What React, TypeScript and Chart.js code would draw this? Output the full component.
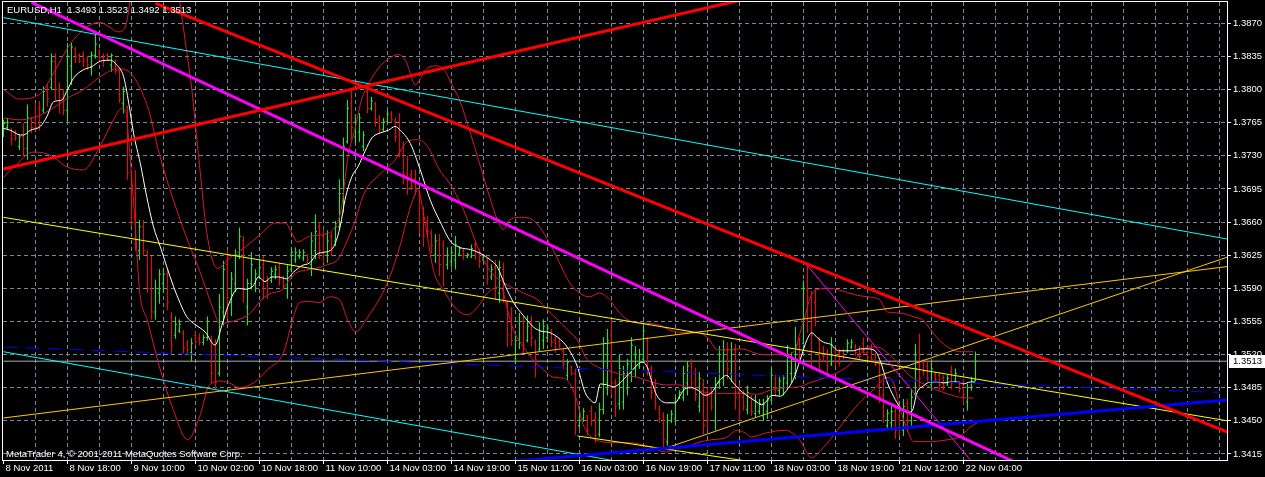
import React, { useEffect, useRef } from "react";
import { Chart, registerables } from "chart.js";
Chart.register(...registerables);

// ---------- data ----------
const symbol = "EURUSD,H1";
const copyright = "MetaTrader 4, \u00a9 2001-2011 MetaQuotes Software Corp.";
const timeLabels = [
  "8 Nov 2011", "8 Nov 18:00", "9 Nov 10:00", "10 Nov 02:00", "10 Nov 18:00", "11 Nov 10:00",
  "14 Nov 03:00", "14 Nov 19:00", "15 Nov 11:00", "16 Nov 03:00", "16 Nov 19:00", "17 Nov 11:00",
  "18 Nov 03:00", "18 Nov 19:00", "21 Nov 12:00", "22 Nov 04:00",
];
const priceTicks = [1.3415, 1.345, 1.3485, 1.352, 1.3555, 1.359, 1.3625, 1.366, 1.3695, 1.373, 1.3765, 1.38, 1.3835, 1.387];

const opens = [
  1.3753, 1.3760, 1.3757, 1.3752, 1.3740, 1.3750, 1.3738, 1.3770, 1.3765, 1.3780,
  1.3778, 1.3798, 1.3802, 1.3830, 1.3800, 1.3790, 1.3778, 1.3825, 1.3843, 1.3836,
  1.3836, 1.3832, 1.3824, 1.3836, 1.3840, 1.3834, 1.3836, 1.3826, 1.3830, 1.3820,
  1.3785, 1.3782, 1.3712, 1.3690, 1.3630, 1.3655, 1.3628, 1.3610, 1.3565, 1.3585,
  1.3595, 1.3605, 1.3560, 1.3540, 1.3545, 1.3543, 1.3532, 1.3522, 1.3540, 1.3537,
  1.3533, 1.3538, 1.3535, 1.3520, 1.3500, 1.3565, 1.3615, 1.3575, 1.3595, 1.3625,
  1.3640, 1.3570, 1.3595, 1.3595, 1.3603, 1.3615, 1.3598, 1.3598, 1.3605, 1.3612,
  1.3600, 1.3590, 1.3610, 1.3620, 1.3624, 1.3622, 1.3625, 1.3615, 1.3630, 1.3655,
  1.3645, 1.3625, 1.3645, 1.3640, 1.3655, 1.3690, 1.3745, 1.3785, 1.3750, 1.3755,
  1.3740, 1.3798, 1.3780, 1.3785, 1.3770, 1.3758, 1.3766, 1.3775, 1.3766, 1.3752,
  1.3735, 1.3712, 1.3710, 1.3705, 1.3690, 1.3668, 1.3660, 1.3648, 1.3625, 1.3640,
  1.3635, 1.3615, 1.3618, 1.3620, 1.3626, 1.3630, 1.3623, 1.3624, 1.3636, 1.3628,
  1.3620, 1.3620, 1.3602, 1.3612, 1.3585, 1.3610, 1.3575, 1.3555, 1.3520, 1.3535,
  1.3555, 1.3535, 1.3552, 1.3533, 1.3525, 1.3535, 1.3538, 1.3545, 1.3535, 1.3534,
  1.3524, 1.3498, 1.3507, 1.3500, 1.3445, 1.3452, 1.3455, 1.3460, 1.3452, 1.3436,
  1.3462, 1.3490, 1.3540, 1.3490, 1.3468, 1.3470, 1.3485, 1.3500, 1.3505, 1.3508,
  1.3515, 1.3535, 1.3505, 1.3490, 1.3462, 1.3455, 1.3428, 1.3450, 1.3452, 1.3475,
  1.3475, 1.3490, 1.3510, 1.3500, 1.3465, 1.3488, 1.3478, 1.3480, 1.3450, 1.3490,
  1.3495, 1.3525, 1.3500, 1.3525, 1.3480, 1.3475, 1.3462, 1.3475, 1.3458, 1.3460,
  1.3455, 1.3460, 1.3472, 1.3495, 1.3482, 1.3485, 1.3490, 1.3500, 1.3500, 1.3535,
  1.3532, 1.3590, 1.3580, 1.3575, 1.3535, 1.3525, 1.3522, 1.3510, 1.3524, 1.3522,
  1.3524, 1.3524, 1.3528, 1.3529, 1.3526, 1.3532, 1.3522, 1.3528, 1.3520, 1.3510,
  1.3478, 1.3445, 1.3448, 1.3460, 1.3455, 1.3440, 1.3468, 1.3450, 1.3478, 1.3510,
  1.3512, 1.3508, 1.3488, 1.3499, 1.3498, 1.3495, 1.3489, 1.3502, 1.3492, 1.3490,
  1.3490, 1.3470, 1.3485, 1.3493,
];
const highs = [
  1.3768, 1.3770, 1.3759, 1.3757, 1.3752, 1.3764, 1.3784, 1.3771, 1.3786, 1.3788,
  1.3803, 1.3805, 1.3838, 1.3838, 1.3808, 1.3800, 1.3849, 1.3849, 1.3845, 1.3838,
  1.3840, 1.3835, 1.3840, 1.3859, 1.3843, 1.3838, 1.3838, 1.3838, 1.3831, 1.3822,
  1.3803, 1.3782, 1.3715, 1.3715, 1.3662, 1.3662, 1.3630, 1.3624, 1.3599, 1.3610,
  1.3611, 1.3609, 1.3565, 1.3560, 1.3557, 1.3546, 1.3535, 1.3537, 1.3544, 1.3542,
  1.3541, 1.3560, 1.3540, 1.3536, 1.3584, 1.3619, 1.3630, 1.3607, 1.3631, 1.3654,
  1.3645, 1.3600, 1.3628, 1.3610, 1.3621, 1.3624, 1.3603, 1.3612, 1.3614, 1.3617,
  1.3603, 1.3614, 1.3633, 1.3633, 1.3631, 1.3631, 1.3626, 1.3649, 1.3668, 1.3660,
  1.3652, 1.3651, 1.3649, 1.3661, 1.3705, 1.3749, 1.3789, 1.3799, 1.3771, 1.3775,
  1.3756, 1.3803, 1.3792, 1.3787, 1.3773, 1.3770, 1.3778, 1.3777, 1.3770, 1.3775,
  1.3745, 1.3730, 1.3715, 1.3715, 1.3694, 1.3676, 1.3666, 1.3652, 1.3647, 1.3647,
  1.3641, 1.3633, 1.3634, 1.3645, 1.3634, 1.3631, 1.3627, 1.3636, 1.3640, 1.3631,
  1.3626, 1.3622, 1.3615, 1.3620, 1.3619, 1.3617, 1.3577, 1.3570, 1.3540, 1.3564,
  1.3561, 1.3561, 1.3561, 1.3536, 1.3554, 1.3557, 1.3552, 1.3547, 1.3540, 1.3536,
  1.3526, 1.3515, 1.3508, 1.3505, 1.3465, 1.3463, 1.3456, 1.3466, 1.3459, 1.3469,
  1.3538, 1.3547, 1.3557, 1.3494, 1.3520, 1.3508, 1.3515, 1.3538, 1.3529, 1.3526,
  1.3552, 1.3538, 1.3508, 1.3494, 1.3466, 1.3459, 1.3457, 1.3461, 1.3475, 1.3482,
  1.3508, 1.3513, 1.3515, 1.3506, 1.3501, 1.3494, 1.3485, 1.3485, 1.3496, 1.3529,
  1.3535, 1.3533, 1.3533, 1.3531, 1.3489, 1.3482, 1.3487, 1.3477, 1.3477, 1.3473,
  1.3473, 1.3477, 1.3505, 1.3499, 1.3496, 1.3498, 1.3530, 1.3522, 1.3549, 1.3538,
  1.3598, 1.3615, 1.3587, 1.3589, 1.3538, 1.3529, 1.3526, 1.3538, 1.3526, 1.3526,
  1.3526, 1.3536, 1.3536, 1.3531, 1.3529, 1.3538, 1.3524, 1.3531, 1.3522, 1.3512,
  1.3498, 1.3462, 1.3466, 1.3466, 1.3459, 1.3473, 1.3473, 1.3483, 1.3531, 1.3542,
  1.3515, 1.3512, 1.3512, 1.3501, 1.3501, 1.3498, 1.3498, 1.3508, 1.3505, 1.3492,
  1.3494, 1.3489, 1.3496, 1.3523,
];
const lows = [
  1.3750, 1.3758, 1.3741, 1.3746, 1.3736, 1.3730, 1.3726, 1.3754, 1.3757, 1.3757,
  1.3775, 1.3782, 1.3800, 1.3789, 1.3775, 1.3773, 1.3766, 1.3805, 1.3828, 1.3828,
  1.3824, 1.3821, 1.3815, 1.3833, 1.3829, 1.3824, 1.3830, 1.3819, 1.3817, 1.3786,
  1.3775, 1.3705, 1.3655, 1.3630, 1.3620, 1.3624, 1.3585, 1.3557, 1.3557, 1.3574,
  1.3585, 1.3567, 1.3521, 1.3537, 1.3543, 1.3521, 1.3520, 1.3513, 1.3530, 1.3530,
  1.3530, 1.3535, 1.3490, 1.3484, 1.3497, 1.3551, 1.3558, 1.3561, 1.3586, 1.3621,
  1.3575, 1.3551, 1.3589, 1.3586, 1.3600, 1.3579, 1.3579, 1.3596, 1.3600, 1.3593,
  1.3589, 1.3579, 1.3607, 1.3617, 1.3621, 1.3619, 1.3617, 1.3603, 1.3621, 1.3621,
  1.3617, 1.3617, 1.3624, 1.3635, 1.3652, 1.3670, 1.3743, 1.3747, 1.3743, 1.3745,
  1.3735, 1.3775, 1.3778, 1.3761, 1.3754, 1.3756, 1.3764, 1.3766, 1.3745, 1.3728,
  1.3700, 1.3689, 1.3694, 1.3689, 1.3648, 1.3634, 1.3645, 1.3627, 1.3617, 1.3603,
  1.3592, 1.3610, 1.3612, 1.3610, 1.3624, 1.3620, 1.3622, 1.3622, 1.3620, 1.3612,
  1.3619, 1.3594, 1.3599, 1.3578, 1.3575, 1.3575, 1.3528, 1.3529, 1.3510, 1.3526,
  1.3521, 1.3533, 1.3529, 1.3496, 1.3524, 1.3526, 1.3533, 1.3528, 1.3522, 1.3527,
  1.3505, 1.3493, 1.3498, 1.3435, 1.3442, 1.3449, 1.3435, 1.3445, 1.3427, 1.3433,
  1.3457, 1.3477, 1.3477, 1.3454, 1.3462, 1.3462, 1.3477, 1.3491, 1.3496, 1.3505,
  1.3513, 1.3498, 1.3473, 1.3462, 1.3448, 1.3422, 1.3424, 1.3448, 1.3448, 1.3473,
  1.3471, 1.3477, 1.3485, 1.3471, 1.3459, 1.3436, 1.3440, 1.3461, 1.3440, 1.3484,
  1.3487, 1.3494, 1.3491, 1.3462, 1.3450, 1.3461, 1.3457, 1.3455, 1.3454, 1.3457,
  1.3450, 1.3452, 1.3471, 1.3477, 1.3477, 1.3477, 1.3483, 1.3490, 1.3494, 1.3515,
  1.3531, 1.3543, 1.3505, 1.3550, 1.3505, 1.3512, 1.3501, 1.3508, 1.3508, 1.3508,
  1.3515, 1.3522, 1.3526, 1.3519, 1.3515, 1.3519, 1.3515, 1.3512, 1.3508, 1.3469,
  1.3448, 1.3441, 1.3440, 1.3431, 1.3434, 1.3434, 1.3438, 1.3445, 1.3476, 1.3483,
  1.3498, 1.3491, 1.3483, 1.3491, 1.3483, 1.3482, 1.3487, 1.3483, 1.3491, 1.3480,
  1.3468, 1.3461, 1.3482, 1.3492,
];
const closes = [
  1.3764, 1.3765, 1.3748, 1.3749, 1.3750, 1.3738, 1.3770, 1.3760, 1.3760, 1.3762,
  1.3798, 1.3790, 1.3830, 1.3800, 1.3785, 1.3778, 1.3835, 1.3845, 1.3835, 1.3830,
  1.3830, 1.3826, 1.3836, 1.3848, 1.3834, 1.3830, 1.3832, 1.3836, 1.3820, 1.3790,
  1.3798, 1.3712, 1.3665, 1.3640, 1.3655, 1.3630, 1.3590, 1.3565, 1.3590, 1.3605,
  1.3605, 1.3575, 1.3530, 1.3552, 1.3552, 1.3527, 1.3525, 1.3532, 1.3534, 1.3533,
  1.3538, 1.3555, 1.3500, 1.3490, 1.3570, 1.3610, 1.3580, 1.3600, 1.3625, 1.3645,
  1.3590, 1.3595, 1.3615, 1.3605, 1.3612, 1.3590, 1.3590, 1.3608, 1.3610, 1.3600,
  1.3592, 1.3608, 1.3628, 1.3628, 1.3628, 1.3628, 1.3620, 1.3640, 1.3650, 1.3630,
  1.3625, 1.3640, 1.3630, 1.3655, 1.3690, 1.3740, 1.3780, 1.3760, 1.3765, 1.3770,
  1.3752, 1.3780, 1.3788, 1.3768, 1.3758, 1.3766, 1.3774, 1.3768, 1.3750, 1.3735,
  1.3710, 1.3695, 1.3698, 1.3692, 1.3660, 1.3645, 1.3650, 1.3635, 1.3640, 1.3615,
  1.3625, 1.3625, 1.3628, 1.3636, 1.3632, 1.3625, 1.3626, 1.3632, 1.3624, 1.3618,
  1.3624, 1.3600, 1.3610, 1.3590, 1.3612, 1.3585, 1.3540, 1.3535, 1.3535, 1.3555,
  1.3530, 1.3550, 1.3538, 1.3515, 1.3545, 1.3550, 1.3548, 1.3533, 1.3527, 1.3530,
  1.3510, 1.3512, 1.3500, 1.3448, 1.3458, 1.3460, 1.3440, 1.3450, 1.3435, 1.3462,
  1.3520, 1.3535, 1.3490, 1.3465, 1.3505, 1.3500, 1.3510, 1.3530, 1.3520, 1.3520,
  1.3545, 1.3505, 1.3480, 1.3468, 1.3452, 1.3430, 1.3450, 1.3457, 1.3470, 1.3480,
  1.3500, 1.3508, 1.3490, 1.3478, 1.3495, 1.3445, 1.3450, 1.3465, 1.3485, 1.3520,
  1.3525, 1.3505, 1.3525, 1.3475, 1.3460, 1.3465, 1.3480, 1.3460, 1.3470, 1.3468,
  1.3468, 1.3472, 1.3498, 1.3485, 1.3492, 1.3495, 1.3520, 1.3515, 1.3530, 1.3520,
  1.3590, 1.3580, 1.3540, 1.3555, 1.3515, 1.3518, 1.3508, 1.3530, 1.3512, 1.3512,
  1.3518, 1.3532, 1.3533, 1.3522, 1.3518, 1.3522, 1.3517, 1.3515, 1.3510, 1.3475,
  1.3455, 1.3458, 1.3460, 1.3440, 1.3442, 1.3465, 1.3450, 1.3475, 1.3505, 1.3495,
  1.3502, 1.3495, 1.3505, 1.3494, 1.3488, 1.3487, 1.3495, 1.3490, 1.3500, 1.3484,
  1.3478, 1.3485, 1.3492, 1.3513,
];

// moving average (white), read at bar positions
const maIdx = [0, 1.7, 4.2, 5, 6.7, 9.2, 10.8, 12.5, 14.6, 15.8, 17.5, 20, 22, 24.2, 26.7, 28.3, 30, 31.3, 32.5, 34.2, 35.8, 37.5, 39.2, 40.8, 42.5, 44.2, 45.8, 47.5, 49.2, 50.4, 52.9, 54.6, 56.2, 58.7, 60.4, 62.5, 63.7, 65.4, 67, 68.7, 70.8, 72.5, 74.6, 76.6, 78.3, 80, 81.7, 82.9, 84.2, 85.4, 87.1, 88.7, 90.4, 92.1, 94.1, 96.2, 97.9, 99.2, 101.7, 104.2, 106.7, 109.2, 111.7, 114.2, 116.7, 119.2, 121.7, 123.4, 125.5, 127.5, 130, 132.5, 134.2, 136.7, 139.2, 140.9, 143.4, 145.4, 146.7, 147.9, 149.2, 150.8, 152.5, 156.2, 158.7, 159.6, 160.8, 162.1, 163.3, 165.8, 167.9, 169.2, 170.4, 172.1, 173.7, 175.4, 177.1, 178.7, 180.8, 182.1, 183.7, 185.4, 187.9, 189.6, 190.8, 192.1, 194.2, 195.9, 197.5, 199.2, 200.9, 202.1, 203.4, 205, 206.7, 208.8, 210.9, 212.5, 214.2, 215.9, 217.9, 219.2, 220.9, 222.5, 224.2, 225.9, 227.1, 228.4, 230, 231.7, 233.4, 235, 236.7, 238.4, 240, 241.7, 243];
const maVal = [1.3759, 1.3757, 1.3752, 1.3752, 1.3757, 1.3761, 1.3771, 1.3787, 1.3789, 1.3798, 1.3812, 1.3821, 1.3824, 1.383, 1.3831, 1.3826, 1.3814, 1.3786, 1.3754, 1.3722, 1.3687, 1.3655, 1.3634, 1.3613, 1.3592, 1.3574, 1.356, 1.3553, 1.3548, 1.3544, 1.353, 1.3551, 1.3572, 1.359, 1.3589, 1.3593, 1.3602, 1.3597, 1.3602, 1.3602, 1.36, 1.3607, 1.3614, 1.3617, 1.3626, 1.3628, 1.363, 1.3637, 1.3656, 1.3684, 1.3708, 1.3719, 1.3735, 1.3749, 1.3754, 1.3757, 1.3761, 1.3757, 1.3743, 1.3715, 1.3683, 1.366, 1.364, 1.3633, 1.3631, 1.3627, 1.362, 1.3613, 1.3592, 1.3575, 1.3561, 1.3549, 1.3545, 1.3543, 1.3536, 1.3528, 1.3508, 1.348, 1.3472, 1.3469, 1.3489, 1.3488, 1.3486, 1.3499, 1.351, 1.3512, 1.3508, 1.3491, 1.3477, 1.3469, 1.3469, 1.3477, 1.3484, 1.3485, 1.3482, 1.3477, 1.348, 1.3491, 1.3498, 1.3492, 1.3484, 1.3478, 1.3471, 1.3467, 1.3471, 1.3477, 1.3476, 1.3483, 1.3494, 1.3515, 1.3536, 1.3543, 1.3538, 1.3533, 1.3531, 1.3524, 1.3524, 1.3524, 1.3526, 1.3526, 1.3524, 1.3513, 1.3491, 1.3476, 1.3464, 1.3459, 1.346, 1.348, 1.3487, 1.3491, 1.3491, 1.349, 1.3491, 1.3491, 1.3489, 1.3491, 1.3491];

// Bollinger bands (crimson): upper, middle, lower
const bbUpIdx = [0, 4, 9, 13, 16.5, 20.5, 24, 26.5, 28.5, 30, 31, 32, 34, 38, 41.5, 44, 45.5, 47, 49, 51, 53.5, 56.5, 60.5, 64, 68, 70.5, 72, 73.5, 76.5, 81, 83, 84.5, 86, 88, 89.5, 91.5, 94, 96.5, 98.5, 100.5, 103, 104, 106, 108.5, 110.5, 111.5, 114, 116.5, 119, 121.5, 123.5, 125, 126.5, 129, 131.5, 134, 136.5, 139, 141.5, 144, 146.5, 149, 151.5, 154, 157.5, 161, 164, 166.5, 170.5, 173.5, 176, 178.5, 180.5, 184.5, 189.5, 195.5, 198, 199, 200.5, 201.5, 203, 206.5, 209, 213, 216, 219, 221, 224, 227.5, 230, 231.5, 234, 236.5, 239, 242.5];
const bbUpVal = [1.38, 1.379, 1.3795, 1.3821, 1.3847, 1.3865, 1.3871, 1.3866, 1.3861, 1.3863, 1.3876, 1.3905, 1.3958, 1.4, 1.3958, 1.3895, 1.3849, 1.3803, 1.372, 1.3644, 1.3611, 1.3622, 1.3634, 1.3646, 1.3659, 1.3659, 1.3649, 1.3639, 1.3645, 1.3648, 1.3656, 1.3675, 1.3726, 1.3761, 1.3789, 1.3808, 1.3824, 1.3833, 1.3837, 1.3831, 1.3805, 1.381, 1.3823, 1.3825, 1.3819, 1.381, 1.3789, 1.3757, 1.3722, 1.3687, 1.3662, 1.3652, 1.3662, 1.3665, 1.3664, 1.3655, 1.3638, 1.3617, 1.3596, 1.3585, 1.3581, 1.3585, 1.3578, 1.3564, 1.3554, 1.3553, 1.3551, 1.3546, 1.3543, 1.3543, 1.3538, 1.3525, 1.3525, 1.3526, 1.352, 1.352, 1.3525, 1.3541, 1.3562, 1.3578, 1.3588, 1.359, 1.3588, 1.3583, 1.3581, 1.3578, 1.3565, 1.3564, 1.356, 1.3556, 1.3548, 1.3535, 1.3527, 1.3523, 1.3523];
const bbMidIdx = [0, 4, 8, 11.5, 16, 20, 24, 28.5, 30.5, 36, 39, 42.5, 46, 49, 52.5, 54, 58, 61.5, 64.5, 67, 69.5, 71, 73, 75.5, 78, 81, 83.5, 84.5, 86, 88, 89.5, 91, 93.5, 96, 98, 99, 101, 103.5, 106, 109, 111.5, 115, 118.5, 121.5, 125, 130, 133.5, 136, 138.5, 141, 143.5, 145.5, 148.5, 152, 155.5, 158.5, 162, 165.5, 168.5, 172, 175.5, 178.5, 182, 185.5, 188.5, 192, 195.5, 199, 201.5, 205, 208.5, 211.5, 214, 216, 218.5, 220, 223, 226.5, 230.5, 235, 239, 242.5];
const bbMidVal = [1.377, 1.3768, 1.3771, 1.3778, 1.3791, 1.38, 1.3813, 1.3822, 1.3821, 1.3782, 1.3731, 1.3683, 1.3641, 1.3609, 1.3567, 1.3553, 1.3556, 1.3563, 1.3578, 1.3585, 1.3588, 1.3596, 1.3606, 1.3609, 1.3611, 1.3615, 1.362, 1.3627, 1.3641, 1.3662, 1.3683, 1.3697, 1.3708, 1.3718, 1.3726, 1.3734, 1.3745, 1.3747, 1.374, 1.3715, 1.3701, 1.3673, 1.3634, 1.3609, 1.3596, 1.3585, 1.3578, 1.3567, 1.3557, 1.3546, 1.3535, 1.3517, 1.3507, 1.3502, 1.3498, 1.3496, 1.3491, 1.3488, 1.3488, 1.3485, 1.348, 1.3479, 1.3479, 1.3479, 1.3478, 1.3483, 1.3485, 1.3486, 1.349, 1.3495, 1.3501, 1.3509, 1.352, 1.3528, 1.3528, 1.3525, 1.3514, 1.3498, 1.3488, 1.348, 1.3475, 1.3474];
const bbLowIdx = [0, 2.5, 7.5, 11.5, 16, 20, 24, 27.5, 29.5, 30.5, 31.5, 33, 34, 36, 39, 42.5, 46, 49, 51.5, 54.5, 56.5, 59, 62.5, 66, 70, 72.5, 74, 76.5, 79, 81.5, 84, 86, 88, 91, 96, 99, 101.5, 103, 103.5, 105, 107.5, 110, 113.5, 116, 118.5, 121, 123.5, 124.5, 126, 127.5, 130, 132.5, 135, 137.5, 140, 142, 143.5, 144.5, 146, 148, 152, 156, 162, 165.5, 168, 170.5, 173.5, 177, 180.5, 183.5, 185.5, 187, 190.5, 195.5, 199, 202, 205, 208.5, 211, 214, 217.5, 221, 222.5, 224, 226, 227.5, 231.5, 236, 239, 241.5, 243.5];
const bbLowVal = [1.3707, 1.3718, 1.3734, 1.3731, 1.3718, 1.3715, 1.3739, 1.3768, 1.378, 1.3778, 1.3736, 1.3652, 1.3588, 1.3556, 1.3507, 1.3461, 1.343, 1.3454, 1.3488, 1.3492, 1.349, 1.3485, 1.349, 1.3504, 1.3522, 1.356, 1.3575, 1.3576, 1.3575, 1.3581, 1.3578, 1.3557, 1.3544, 1.3559, 1.3596, 1.3633, 1.3673, 1.3691, 1.3696, 1.3669, 1.3609, 1.3588, 1.3567, 1.3562, 1.357, 1.3585, 1.3591, 1.359, 1.3567, 1.3546, 1.3528, 1.3514, 1.3504, 1.3496, 1.3495, 1.3486, 1.3469, 1.3451, 1.3437, 1.343, 1.3427, 1.3427, 1.3422, 1.3417, 1.3421, 1.3422, 1.3427, 1.343, 1.3432, 1.344, 1.3437, 1.3433, 1.3437, 1.344, 1.343, 1.3411, 1.3422, 1.344, 1.3454, 1.3469, 1.3483, 1.3496, 1.349, 1.3465, 1.344, 1.3428, 1.3428, 1.343, 1.3433, 1.3443, 1.3448];

// trend lines: anchor bar index and price
const redFallIdx = [38, 306];
const redFallVal = [1.3891, 1.3438];
const redRiseIdx = [0, 190];
const redRiseVal = [1.3716, 1.39];
const magentaIdx = [7, 255];
const magentaVal = [1.3892, 1.3402];
const magentaThinIdx = [200.8, 246];
const magentaThinVal = [1.3615, 1.3387];
const cyanTopIdx = [0, 306];
const cyanTopVal = [1.3876, 1.3642];
const cyanLowIdx = [0, 306];
const cyanLowVal = [1.3523, 1.3292];
const yellowIdx = [0, 306];
const yellowVal = [1.3665, 1.345];
const yellowShortIdx = [143.5, 185];
const yellowShortVal = [1.3434, 1.3408];
const goldLongIdx = [0, 306];
const goldLongVal = [1.3453, 1.3613];
const goldSteepIdx = [165.5, 306];
const goldSteepVal = [1.3421, 1.3623];
const blueIdx = [124, 306];
const blueVal = [1.3406, 1.3472];
const blueDashIdx = [0, 304];
const blueDashVal = [1.3528, 1.348];

// ---------- helpers ----------
const FONT = "'Liberation Sans', Arial, sans-serif";
const pts = (xs: number[], ys: number[]) => xs.map((x, k) => ({ x, y: ys[k] }));

function ohlcPath(up: boolean) {
  const out: { x: number; y: number | null }[] = [];
  for (let i = 0; i < closes.length; i++) {
    const isUp = closes[i] >= opens[i];
    if (isUp !== up) continue;
    out.push({ x: i - 0.375, y: opens[i] });
    out.push({ x: i, y: opens[i] });
    out.push({ x: i, y: highs[i] });
    out.push({ x: i, y: lows[i] });
    out.push({ x: i, y: closes[i] });
    out.push({ x: i + 0.375, y: closes[i] });
    out.push({ x: i + 0.375, y: null });
  }
  return out;
}

function lineDs(data: any[], color: string, width: number, order: number, extra: any = {}) {
  return {
    type: "line",
    data,
    borderColor: color,
    borderWidth: width,
    pointRadius: 0,
    pointHitRadius: 0,
    tension: 0,
    order,
    ...extra,
  };
}

const decorPlugin = {
  id: "decor",
  beforeDraw(chart: any) {
    const { ctx, width, height } = chart;
    ctx.save();
    ctx.fillStyle = "#000000";
    ctx.fillRect(0, 0, width, height);
    ctx.restore();
  },
  afterDraw(chart: any) {
    const { ctx, chartArea: a, scales } = chart;
    const n = closes.length - 1;
    ctx.save();
    ctx.strokeStyle = "#ffffff";
    ctx.lineWidth = 1;
    ctx.strokeRect(a.left - 0.5, a.top - 0.5, a.right - a.left + 1, a.bottom - a.top + 1);
    ctx.fillStyle = "#ffffff";
    ctx.font = `9.5px ${FONT}`;
    ctx.textBaseline = "middle";
    ctx.textAlign = "left";
    const head = `${symbol}  ${opens[n].toFixed(4)} ${highs[n].toFixed(4)} ${lows[n].toFixed(4)} ${closes[n].toFixed(4)}`;
    ctx.fillText(head, 7, 10);
    ctx.fillText(copyright, 6, 454);
    const y = scales.y.getPixelForValue(closes[n]);
    ctx.fillStyle = "#ffffff";
    ctx.fillRect(a.right + 2, Math.round(y) - 6, 36, 13);
    ctx.fillStyle = "#000000";
    ctx.fillText(closes[n].toFixed(4), a.right + 6, Math.round(y) + 0.5);
    ctx.restore();
  },
};

export default function App() {
  const ref = useRef<HTMLCanvasElement>(null);
  useEffect(() => {
    const canvas = ref.current;
    if (!canvas) return;
    const isLabeled = (v: number) => {
      const k = v / 16;
      return Number.isInteger(k) && k >= 0 && k < timeLabels.length;
    };
    const last = closes[closes.length - 1];
    const datasets: any[] = [
      lineDs(pts([0, 306], [last, last]), "#a8b0b8", 1, 20),
      lineDs(ohlcPath(false), "#ff0000", 1, 19, { borderJoinStyle: "bevel", spanGaps: false }),
      lineDs(ohlcPath(true), "#00ff00", 1, 18, { borderJoinStyle: "bevel", spanGaps: false }),
      lineDs(pts(bbUpIdx, bbUpVal), "#dc143c", 1, 15, { cubicInterpolationMode: "monotone" }),
      lineDs(pts(bbMidIdx, bbMidVal), "#dc143c", 1, 15, { cubicInterpolationMode: "monotone" }),
      lineDs(pts(bbLowIdx, bbLowVal), "#dc143c", 1, 15, { cubicInterpolationMode: "monotone" }),
      lineDs(pts(maIdx, maVal), "#ffffff", 1, 14, { cubicInterpolationMode: "monotone" }),
      lineDs(pts(blueDashIdx, blueDashVal), "#0000ff", 1, 12, { borderDash: [14, 8] }),
      lineDs(pts(cyanTopIdx, cyanTopVal), "#00ffff", 1, 10),
      lineDs(pts(cyanLowIdx, cyanLowVal), "#00ffff", 1, 10),
      lineDs(pts(yellowIdx, yellowVal), "#ffff00", 1, 10),
      lineDs(pts(yellowShortIdx, yellowShortVal), "#ffff00", 1, 10),
      lineDs(pts(goldLongIdx, goldLongVal), "#ffc800", 1, 10),
      lineDs(pts(goldSteepIdx, goldSteepVal), "#ffc800", 1, 10),
      lineDs(pts(magentaThinIdx, magentaThinVal), "#ff00ff", 1, 9),
      lineDs(pts(blueIdx, blueVal), "#0000ff", 3, 5),
      lineDs(pts(magentaIdx, magentaVal), "#ff00ff", 3, 4),
      lineDs(pts(redRiseIdx, redRiseVal), "#ff0000", 3, 3),
      lineDs(pts(redFallIdx, redFallVal), "#ff0000", 3, 2),
    ];
    const chart = new Chart(canvas, {
      type: "line",
      data: { datasets },
      options: {
        animation: false,
        responsive: false,
        maintainAspectRatio: false,
        events: [],
        layout: { padding: { left: 3, top: 2, right: 0, bottom: 0 } },
        plugins: { legend: { display: false }, tooltip: { enabled: false }, title: { display: false } },
        scales: {
          x: {
            type: "linear",
            position: "bottom",
            min: -0.125,
            max: 305.875,
            afterBuildTicks: (s: any) => {
              const t: any[] = [];
              for (let v = 0; v <= 304; v += 8) t.push({ value: v });
              s.ticks = t;
            },
            afterFit: (s: any) => {
              s.height = 17;
              s.paddingLeft = 0;
              s.paddingRight = 0;
            },
            ticks: {
              autoSkip: false,
              maxRotation: 0,
              minRotation: 0,
              align: "start",
              padding: 0,
              labelOffset: 2,
              color: "#ffffff",
              font: { family: FONT, size: 9.5, lineHeight: 1 },
              callback: (v: any) => (isLabeled(Number(v)) ? timeLabels[Number(v) / 16] : ""),
            },
            grid: {
              color: (c: any) => (c.tick && c.tick.value === 0 ? "rgba(0,0,0,0)" : "#778899"),
              tickColor: (c: any) => (c.tick && isLabeled(c.tick.value) ? "#ffffff" : "rgba(0,0,0,0)"),
              tickLength: 4,
              lineWidth: 1,
            },
            border: { display: false, dash: [4, 3] },
          },
          y: {
            type: "linear",
            position: "right",
            min: 1.34086,
            max: 1.38925,
            afterBuildTicks: (s: any) => {
              s.ticks = priceTicks.map((v) => ({ value: v }));
            },
            afterFit: (s: any) => {
              s.width = 38;
              s.paddingTop = 0;
              s.paddingBottom = 0;
            },
            ticks: {
              color: "#ffffff",
              padding: 2,
              font: { family: FONT, size: 9.5 },
              callback: (v: any) => Number(v).toFixed(4),
            },
            grid: { color: "#778899", tickColor: "#ffffff", tickLength: 4, lineWidth: 1 },
            border: { display: false, dash: [4, 3] },
          },
        },
      },
      plugins: [decorPlugin],
    } as any);
    return () => chart.destroy();
  }, []);
  return (
    <div style={{ position: "fixed", left: 0, top: 0, width: 1265, height: 477, background: "#000" }}>
      <canvas ref={ref} width={1265} height={477} style={{ display: "block" }} />
    </div>
  );
}
